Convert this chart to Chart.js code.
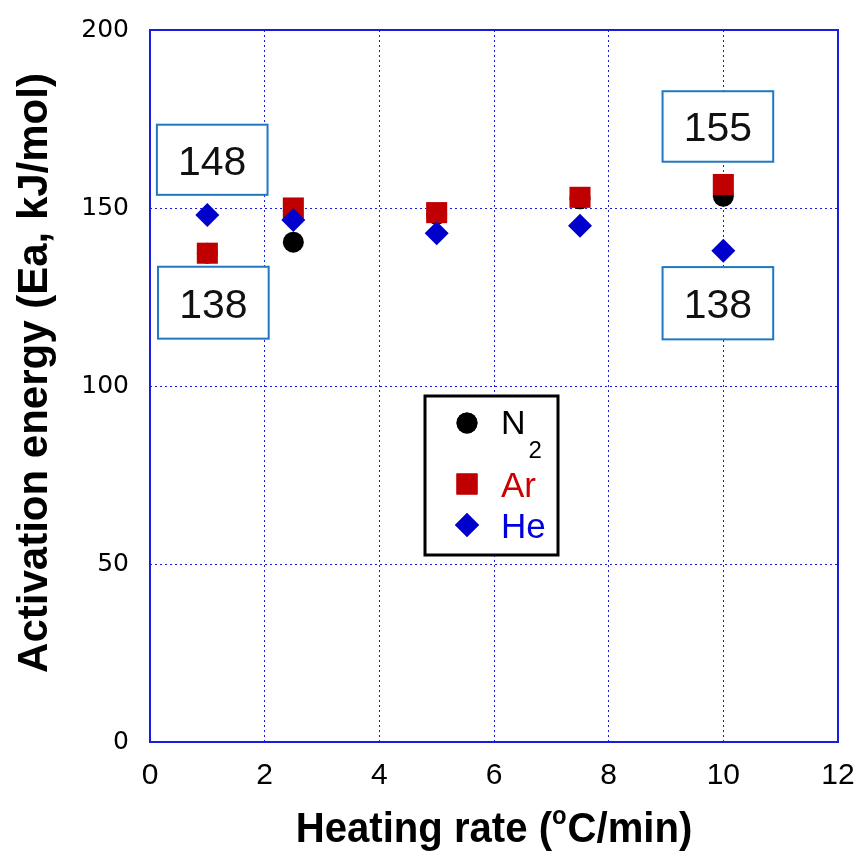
<!DOCTYPE html>
<html>
<head>
<meta charset="utf-8">
<script src="https://cdn.jsdelivr.net/npm/chart.js@4/dist/chart.umd.min.js"></script>
<style>
  html, body { margin: 0; padding: 0; background: #ffffff; }
  #wrap { width: 858px; height: 852px; position: relative; }
</style>
</head>
<body>
<div id="wrap"><canvas id="eaChart" width="858" height="852"></canvas></div>
<script>
// heating rate (°C/min) and activation energy (kJ/mol) per carrier gas
const heatingRates = [1, 2.5, 5, 7.5, 10];
const eaN2 = [137.3, 140.4, 148.2, 152.6, 153.3];
const eaAr = [137.3, 150.0, 148.7, 153.0, 156.6];
const eaHe = [148.0, 146.6, 142.9, 145.0, 138.0];

const xTicks = [0, 2, 4, 6, 8, 10, 12];
const yTicks = [0, 50, 100, 150, 200];

// boxed value labels, in data units
const calloutText = ["148", "138", "155", "138"];
const calloutX = [[0.12, 2.05], [0.14, 2.07], [8.94, 10.87], [8.94, 10.87]];
const calloutY = [[173.4, 153.7], [133.5, 113.3], [182.8, 163.0], [133.4, 113.1]];

const BLUE = "#1a1ae0";

function pts(ys) {
  return heatingRates.map((x, i) => ({ x: x, y: ys[i] }));
}

const series = [
  { name: "N", sub: "2", data: eaN2, style: "circle", r: 10.5, color: "#000000", text: "#000000", order: 2 },
  { name: "Ar", sub: "", data: eaAr, style: "rect", r: 14.9, color: "#c00000", text: "#cc0000", order: 1 },
  { name: "He", sub: "", data: eaHe, style: "rectRot", r: 12, color: "#0000cc", text: "#0000dd", order: 0 }
];

const extras = {
  id: "extras",
  afterDraw(chart) {
    const ctx = chart.ctx;
    const a = chart.chartArea;
    const xs = chart.scales.x;
    const ys = chart.scales.y;

    // plot frame
    ctx.save();
    ctx.strokeStyle = BLUE;
    ctx.lineWidth = 2;
    ctx.strokeRect(a.left, a.top, a.right - a.left, a.bottom - a.top);
    ctx.restore();

    // callout boxes
    ctx.save();
    calloutText.forEach((t, i) => {
      const x0 = xs.getPixelForValue(calloutX[i][0]);
      const x1 = xs.getPixelForValue(calloutX[i][1]);
      const y0 = ys.getPixelForValue(calloutY[i][0]);
      const y1 = ys.getPixelForValue(calloutY[i][1]);
      ctx.fillStyle = "#ffffff";
      ctx.fillRect(x0, y0, x1 - x0, y1 - y0);
      ctx.strokeStyle = "#1f78c1";
      ctx.lineWidth = 2;
      ctx.strokeRect(x0, y0, x1 - x0, y1 - y0);
      ctx.fillStyle = "#111111";
      ctx.font = "41px 'Liberation Sans', Arial, sans-serif";
      ctx.textAlign = "center";
      ctx.textBaseline = "alphabetic";
      ctx.fillText(t, (x0 + x1) / 2, (y0 + y1) / 2 + 15);
    });
    ctx.restore();

    // legend
    ctx.save();
    ctx.fillStyle = "#ffffff";
    ctx.fillRect(425, 396, 133, 159);
    ctx.strokeStyle = "#000000";
    ctx.lineWidth = 3;
    ctx.strokeRect(425, 396, 133, 159);
    const rowY = [423, 484, 525];
    series.forEach((s, i) => {
      ctx.fillStyle = s.color;
      Chart.helpers.drawPoint(ctx, { pointStyle: s.style, radius: s.r, borderWidth: 0 }, 467, rowY[i]);
      ctx.fill();
      ctx.fillStyle = s.text;
      ctx.textAlign = "left";
      ctx.textBaseline = "alphabetic";
      if (s.sub) {
        ctx.font = "34px 'Liberation Sans', Arial, sans-serif";
        ctx.fillText(s.name, 501, rowY[i] + 11);
        const w = ctx.measureText(s.name).width;
        ctx.font = "24px 'Liberation Sans', Arial, sans-serif";
        ctx.fillText(s.sub, 501 + w + 3, rowY[i] + 35);
      } else {
        ctx.font = "35px 'Liberation Sans', Arial, sans-serif";
        ctx.fillText(s.name, 501, rowY[i] + 13);
      }
    });
    ctx.restore();

    // x title with superscript degree
    ctx.save();
    const big = "bold 42px 'Liberation Sans', Arial, sans-serif";
    const small = "bold 25px 'Liberation Sans', Arial, sans-serif";
    const p1 = "Heating rate (", p2 = "o", p3 = "C/min)";
    ctx.font = big;
    const w1 = ctx.measureText(p1).width, w3 = ctx.measureText(p3).width;
    ctx.font = small;
    const w2 = ctx.measureText(p2).width + 1;
    const sx = 0.955;
    const total = (w1 + w2 + w3);
    const cx = (a.left + a.right) / 2;
    ctx.translate(cx, 842);
    ctx.scale(sx, 1);
    ctx.fillStyle = "#000000";
    ctx.textBaseline = "alphabetic";
    ctx.textAlign = "left";
    let x = -total / 2;
    ctx.font = big; ctx.fillText(p1, x, 0); x += w1;
    ctx.font = small; ctx.fillText(p2, x, -18); x += w2;
    ctx.font = big; ctx.fillText(p3, x, 0);
    ctx.restore();

    // y title
    ctx.save();
    ctx.translate(47, 373);
    ctx.rotate(-Math.PI / 2);
    ctx.font = big;
    ctx.fillStyle = "#000000";
    ctx.textAlign = "center";
    ctx.textBaseline = "alphabetic";
    ctx.fillText("Activation energy (Ea, kJ/mol)", 0, 0);
    ctx.restore();
  }
};

new Chart(document.getElementById("eaChart"), {
  type: "scatter",
  data: {
    datasets: series.map((s) => ({
      label: s.name + s.sub,
      data: pts(s.data),
      pointStyle: s.style,
      pointRadius: s.r,
      pointHoverRadius: s.r,
      pointBackgroundColor: s.color,
      pointBorderWidth: 0,
      borderWidth: 0,
      showLine: false,
      order: s.order
    }))
  },
  options: {
    responsive: false,
    animation: false,
    events: [],
    layout: { padding: { left: 0, right: 20, top: 30, bottom: 0 } },
    plugins: { legend: { display: false }, tooltip: { enabled: false } },
    scales: {
      x: {
        type: "linear",
        min: 0,
        max: 12,
        afterFit(scale) {
          scale.height = 110;
          scale.paddingLeft = 0;
          scale.paddingRight = 0;
        },
        afterBuildTicks(scale) { scale.ticks = xTicks.map((v) => ({ value: v })); },
        grid: { color: BLUE, lineWidth: 1, drawTicks: false },
        border: { display: false, dash: [2, 3] },
        ticks: {
          color: "#000000",
          padding: 16,
          font: { family: "'Liberation Sans', Arial, sans-serif", size: 30 }
        }
      },
      y: {
        type: "linear",
        min: 0,
        max: 200,
        afterFit(scale) {
          scale.width = 150;
          scale.paddingTop = 0;
          scale.paddingBottom = 0;
        },
        afterBuildTicks(scale) { scale.ticks = yTicks.map((v) => ({ value: v })); },
        grid: { color: BLUE, lineWidth: 1, drawTicks: false },
        border: { display: false, dash: [2, 3] },
        ticks: {
          color: "#000000",
          padding: 21,
          font: { family: "'DejaVu Sans', sans-serif", size: 25 }
        }
      }
    }
  },
  plugins: [extras]
});
</script>
</body>
</html>
